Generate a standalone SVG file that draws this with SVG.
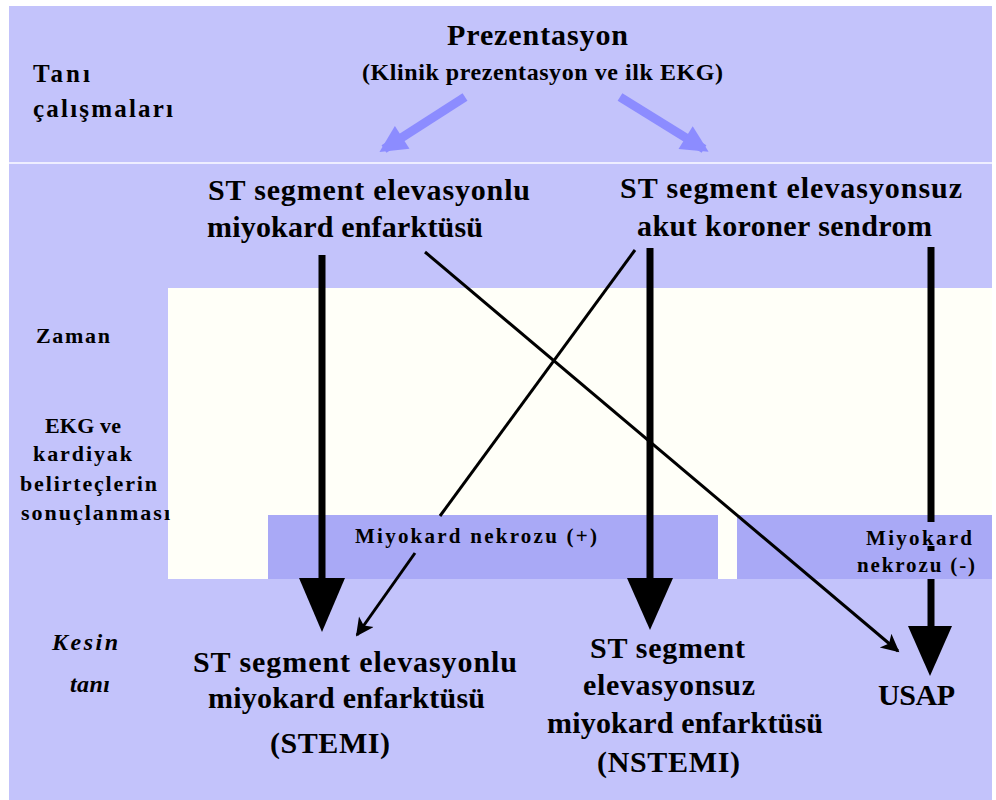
<svg xmlns="http://www.w3.org/2000/svg" width="996" height="800" viewBox="0 0 996 800">
<defs>
<style>
text{font-family:"Liberation Serif","Times New Roman",serif;font-weight:bold;fill:#000}
.t30{font-size:30px}
.t25{font-size:25px}
.t24{font-size:24px}
.t22{font-size:22px}
.t21{font-size:21px}
.it{font-style:italic}
.thick{stroke:#000;stroke-width:7;fill:none}
.thin{stroke:#000;stroke-width:3;fill:none}
.blue{stroke:#8c8cff;stroke-width:9;fill:none}
</style>
<marker id="thinHead" viewBox="0 0 10 10" refX="9" refY="5" markerWidth="8" markerHeight="6" markerUnits="strokeWidth" orient="auto">
<path d="M0,0 L10,5 L0,10 L2.5,5 Z" fill="#000"/>
</marker>
<marker id="blueHead" viewBox="0 0 10 10" refX="8" refY="5" markerWidth="3.2" markerHeight="3" markerUnits="strokeWidth" orient="auto">
<path d="M0,0 L10,5 L0,10 Z" fill="#8c8cff"/>
</marker>
</defs>
<rect x="0" y="0" width="996" height="800" fill="#ffffff"/>
<rect x="9" y="6" width="983" height="794" fill="#c3c3fb"/>
<line x1="9" y1="163" x2="992" y2="163" stroke="#eeeeff" stroke-width="2"/>
<rect x="168" y="288" width="824" height="291" fill="#fffff8"/>
<rect id="box-necrosis-pos" x="268" y="515" width="450" height="64" fill="#a9a9f6"/>
<rect id="box-necrosis-neg" x="737" y="515" width="255" height="64" fill="#a9a9f6"/>

<g id="label-tani">
<text class="t25" x="33" y="82" textLength="57" lengthAdjust="spacing">Tanı</text>
<text class="t25" x="33" y="117" textLength="140" lengthAdjust="spacing">çalışmaları</text>
</g>
<g id="label-zaman">
<text class="t22" x="36" y="343" textLength="74" lengthAdjust="spacing">Zaman</text>
</g>
<g id="label-ekg">
<text class="t22" x="45" y="433" textLength="76" lengthAdjust="spacing">EKG ve</text>
<text class="t22" x="33" y="461" textLength="99" lengthAdjust="spacing">kardiyak</text>
<text class="t22" x="20" y="491" textLength="137" lengthAdjust="spacing">belirteçlerin</text>
<text class="t22" x="21" y="520" textLength="149" lengthAdjust="spacing">sonuçlanması</text>
</g>
<g id="label-kesin">
<text class="t24 it" x="52" y="650" textLength="66" lengthAdjust="spacing">Kesin</text>
<text class="t24 it" x="70" y="692" textLength="40" lengthAdjust="spacing">tanı</text>
</g>

<g id="node-presentation">
<text class="t30" x="447" y="45" textLength="181" lengthAdjust="spacing">Prezentasyon</text>
<text class="t24" x="362" y="80" textLength="361" lengthAdjust="spacing">(Klinik prezentasyon ve ilk EKG)</text>
</g>
<g id="node-stemi-top">
<text class="t30" x="208" y="200" textLength="322" lengthAdjust="spacing">ST segment elevasyonlu</text>
<text class="t30" x="207" y="237" textLength="276" lengthAdjust="spacing">miyokard enfarktüsü</text>
</g>
<g id="node-nste-acs">
<text class="t30" x="620" y="198" textLength="342" lengthAdjust="spacing">ST segment elevasyonsuz</text>
<text class="t30" x="637" y="236" textLength="295" lengthAdjust="spacing">akut koroner sendrom</text>
</g>
<g id="node-necrosis-pos">
<text class="t21" x="355" y="543" textLength="242" lengthAdjust="spacing">Miyokard nekrozu (+)</text>
</g>
<g id="node-necrosis-neg">
<text class="t21" x="866" y="545" textLength="106" lengthAdjust="spacing">Miyokard</text>
<text class="t21" x="857" y="572" textLength="118" lengthAdjust="spacing">nekrozu (-)</text>
</g>
<g id="node-stemi">
<text class="t30" x="193" y="672" textLength="324" lengthAdjust="spacing">ST segment elevasyonlu</text>
<text class="t30" x="208" y="708" textLength="277" lengthAdjust="spacing">miyokard enfarktüsü</text>
<text class="t30" x="270" y="753" textLength="120" lengthAdjust="spacing">(STEMI)</text>
</g>
<g id="node-nstemi">
<text class="t30" x="590" y="658" textLength="155" lengthAdjust="spacing">ST segment</text>
<text class="t30" x="583" y="695" textLength="172" lengthAdjust="spacing">elevasyonsuz</text>
<text class="t30" x="547" y="733" textLength="276" lengthAdjust="spacing">miyokard enfarktüsü</text>
<text class="t30" x="597" y="772" textLength="143" lengthAdjust="spacing">(NSTEMI)</text>
</g>
<g id="node-usap">
<text class="t30" x="878" y="705" textLength="77" lengthAdjust="spacing">USAP</text>
</g>

<g id="connectors">
<line class="blue" x1="465" y1="97" x2="384" y2="149" marker-end="url(#blueHead)"/>
<line class="blue" x1="620" y1="97" x2="704" y2="149" marker-end="url(#blueHead)"/>
<line class="thick" x1="322" y1="255" x2="322" y2="585"/>
<polygon points="299,578 345,578 322,632" fill="#000"/>
<line class="thick" x1="650" y1="248" x2="650" y2="585"/>
<polygon points="627,578 673,578 650,630" fill="#000"/>
<line class="thick" x1="931" y1="247" x2="931" y2="522"/>
<line class="thick" x1="931" y1="546" x2="931" y2="551"/>
<line class="thick" x1="931" y1="579" x2="931" y2="632"/>
<polygon points="908,626 952,626 930,676" fill="#000"/>
<line class="thin" x1="425" y1="252" x2="898" y2="651" marker-end="url(#thinHead)"/>
<line class="thin" x1="635" y1="250" x2="440" y2="516"/>
<line class="thin" x1="415" y1="553" x2="357" y2="635" marker-end="url(#thinHead)"/>
</g>
</svg>
